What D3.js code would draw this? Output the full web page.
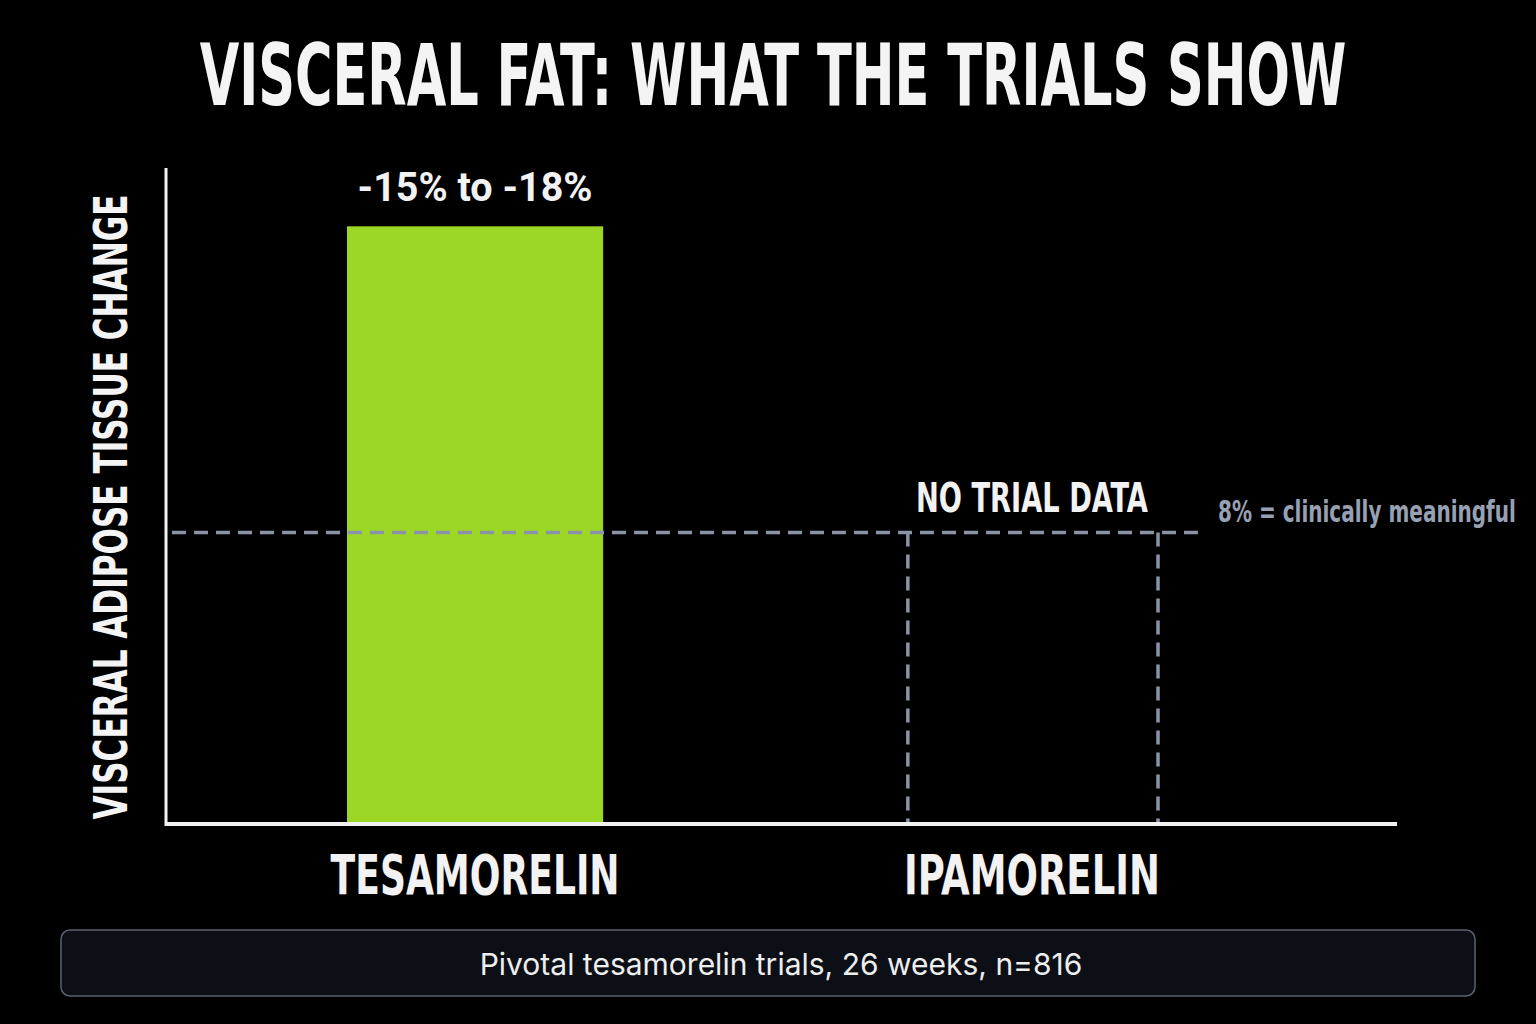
<!DOCTYPE html>
<html><head><meta charset="utf-8">
<script src="https://cdn.jsdelivr.net/npm/d3@7"></script>
<style>
html,body{margin:0;padding:0;background:#000;}
svg{display:block;}
.cond{font-family:"Liberation Sans Narrow","DejaVu Sans Condensed","Roboto",sans-serif;font-weight:bold;}
</style></head>
<body>
<svg id="chart" width="1536" height="1024"></svg>
<script>
const categories = ["TESAMORELIN", "IPAMORELIN"];
const values = [16.4, null];           // % reduction in VAT (magnitude); null = no trial data
const barLabels = ["-15% to -18%", "NO TRIAL DATA"];
const threshold = 8;
const thresholdLabel = "8% = clinically meaningful";
const title = "VISCERAL FAT: WHAT THE TRIALS SHOW";
const yTitle = "VISCERAL ADIPOSE TISSUE CHANGE";
const footnote = "Pivotal tesamorelin trials, 26 weeks, n=816";

(function(){
const svg = d3.select("#chart");
svg.append("rect").attr("width",1536).attr("height",1024).attr("fill","#000");

// squeeze a text horizontally to a target width using a scale transform
function fitText(sel, tx, ty, targetW, rot){
  const w = sel.node().getComputedTextLength();
  const sx = targetW / w;
  sel.attr("x",0).attr("y",0)
     .attr("transform",`translate(${tx},${ty})${rot?` rotate(${rot})`:""} scale(${sx},1)`);
  return sel;
}

const mL = 166, mR = 1397, mT = 168, mB = 824;
const x = d3.scaleBand().domain(categories).range([347, 1160]).paddingInner(0.54).paddingOuter(0);
const y = d3.scaleLinear().domain([0, 18]).range([mB, mT]);

// title
fitText(svg.append("text").attr("class","cond").attr("text-anchor","middle")
  .attr("fill","#f4f4f4").attr("font-size",86).text(title), 773, 105, 1147);

// y-axis title
fitText(svg.append("text").attr("class","cond").attr("text-anchor","middle")
  .attr("fill","#f4f4f4").attr("font-size",47).text(yTitle), 127, 507, 625, -90);

const g = svg.append("g");
const data = categories.map((c,i)=>({c, v: values[i], label: barLabels[i]}));

// bars
g.selectAll("rect.bar").data(data.filter(d=>d.v!=null)).join("rect").attr("class","bar")
  .attr("x",d=>x(d.c)).attr("width",x.bandwidth())
  .attr("y",d=>y(d.v)).attr("height",d=>y(0)-y(d.v))
  .attr("fill","#9bd724");

// placeholder dashed box for missing data
data.filter(d=>d.v==null).forEach(d=>{
  const x0 = x(d.c)+4, x1 = x(d.c)+x.bandwidth()-2;
  [x0,x1].forEach(xx=>{
    g.append("line").attr("x1",xx).attr("x2",xx).attr("y1",y(threshold)).attr("y2",y(0))
      .attr("stroke","#8a94a6").attr("stroke-width",3.5).attr("stroke-dasharray","14,8");
  });
});

// threshold line
g.append("line").attr("x1",mL+6).attr("x2",1205).attr("y1",y(threshold)).attr("y2",y(threshold))
  .attr("stroke","#8a94a6").attr("stroke-width",3.5).attr("stroke-dasharray","14,8");
fitText(svg.append("text").attr("class","cond").attr("fill","#98a1b3").attr("font-size",30)
  .text(thresholdLabel), 1218, y(threshold)-10, 298);

// value labels
data.forEach(d=>{
  const cx = x(d.c)+x.bandwidth()/2;
  if(d.v!=null){
    fitText(svg.append("text").attr("text-anchor","middle").attr("fill","#f2f2f2")
      .attr("font-family","Roboto, 'DejaVu Sans', sans-serif").attr("font-weight","bold")
      .attr("font-size",40).text(d.label), cx, y(d.v)-25, 235);
  } else {
    fitText(svg.append("text").attr("class","cond").attr("text-anchor","middle")
      .attr("fill","#f2f2f2").attr("font-size",40).text(d.label), cx, y(threshold)-20, 232);
  }
});

// axes
const xAxis = d3.axisBottom(x).tickSize(0).tickPadding(30);
const xa = svg.append("g").attr("transform",`translate(0,${mB})`).call(xAxis);
xa.select(".domain").attr("stroke","#f2f2f2").attr("stroke-width",4).attr("d",`M${mL},0H${mR}`);
xa.selectAll("text").attr("class","cond").attr("fill","#f2f2f2").attr("font-size",56)
  .attr("dy","0.71em")
  .each(function(d,i){
    const w = this.getComputedTextLength();
    const sx = (i===0?289:256)/w;
    d3.select(this).attr("transform",`scale(${sx},1)`);
  });

const yAxis = d3.axisLeft(y).ticks(0).tickSize(0).tickFormat("");
const ya = svg.append("g").attr("transform",`translate(${mL},0)`).call(yAxis);
ya.select(".domain").attr("stroke","#f2f2f2").attr("stroke-width",3).attr("d",`M0,${mT}V${mB+2}`);

// footnote box
svg.append("rect").attr("x",61).attr("y",930).attr("width",1414).attr("height",66).attr("rx",9)
  .attr("fill","#0c1016").attr("stroke","#5a6170").attr("stroke-width",1.5);
svg.append("text").attr("x",781).attr("y",975).attr("text-anchor","middle")
  .attr("fill","#eeeeee").attr("font-family","Inter, Roboto, sans-serif").attr("font-size",30)
  .text(footnote);
})();
</script>
</body></html>
